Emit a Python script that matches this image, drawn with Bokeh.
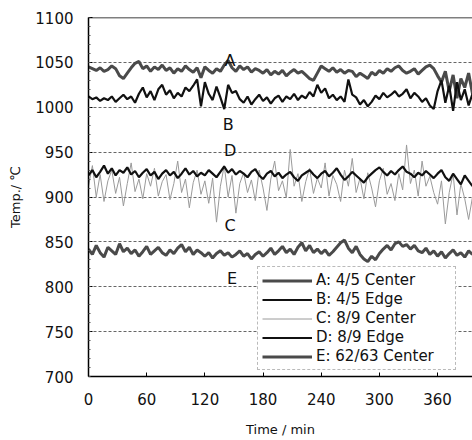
from bokeh.plotting import figure
from bokeh.models import Range1d, Span, SingleIntervalTicker, Legend, LegendItem
from bokeh.core.properties import value
from bokeh.embed import file_html
from bokeh.resources import INLINE

FONT = "DejaVu Sans"

# time axis (min), one reading every 4 minutes
time_min = list(range(0, 400, 4))

series_A = [1045, 1043, 1041, 1044, 1040, 1042, 1046, 1043, 1035, 1032,
            1038, 1044, 1049, 1051, 1043, 1046, 1040, 1045, 1042, 1047,
            1041, 1044, 1038, 1043, 1040, 1046, 1042, 1039, 1044, 1033,
            1045, 1041, 1038, 1043, 1040, 1047, 1052, 1044, 1040, 1046,
            1042, 1045, 1039, 1043, 1041, 1038, 1042, 1036, 1040, 1037,
            1041, 1035, 1039, 1042, 1038, 1040, 1036, 1032, 1030, 1038,
            1046, 1043, 1040, 1044, 1039, 1042, 1038, 1041, 1040, 1034,
            1038, 1035, 1032, 1039, 1036, 1041, 1038, 1043, 1040, 1044,
            1046, 1041, 1038, 1040, 1043, 1037, 1041, 1045, 1047, 1043,
            1035, 1028, 1040, 1018, 1036, 1010, 1032, 1022, 1038, 1015]

series_B = [1012, 1009, 1011, 1007, 1010, 1008, 1012, 1006, 1010, 1014,
            1009, 1012, 1005, 1015, 1022, 1011, 1018, 1008, 1020, 1025,
            1014, 1019, 1010, 1016, 1012, 1022, 1018, 1024, 1031, 1001,
            1028, 1015, 1008, 1023, 1011, 998, 1025, 1016, 1018, 1009,
            1005, 1012, 1003, 1009, 1014, 1007, 1011, 1004, 1010, 1013,
            1006, 1012, 1009, 1015, 1008, 1013, 1010, 1017, 1012, 1025,
            1016, 1021, 1010, 1014, 1008, 1012, 1006, 1031, 1014, 1011,
            1003, 1008, 1001, 1006, 1013, 1009, 1016, 1011, 1014, 1018,
            1012, 1015, 1020, 1010, 1016, 1012, 1006, 1010, 1002, 998,
            1018, 1030, 1005, 1024, 996, 1028, 1008, 1020, 1002, 1015]

series_C = [912, 935, 900, 925, 895, 918, 930, 904, 922, 890,
            915, 938, 906, 920, 898, 926, 912, 932, 901, 917,
            925, 897, 915, 940, 905, 920, 888, 916, 930, 903,
            918, 893, 921, 872, 912, 935, 900, 924, 882, 915,
            927, 905, 919, 896, 930, 910, 885, 920, 940, 907,
            918, 899, 953, 912, 926, 895, 917, 932, 904, 921,
            910, 938, 901, 924, 914, 895, 930, 912, 943, 905,
            921, 898, 927, 910, 889, 918, 932, 903, 915, 896,
            926, 908, 958, 915, 930, 901, 940, 912, 923, 905,
            892, 918, 870, 905, 926, 880, 915, 898, 875, 900]

series_D = [924, 930, 922, 928, 935, 926, 932, 924, 930, 927,
            933, 925, 929, 922, 927, 931, 924, 928, 920, 926,
            930, 924, 928, 921, 926, 932, 925, 929, 923, 927,
            924, 930, 926, 922, 928, 934, 927, 931, 925, 929,
            926, 922, 928, 931, 924, 920, 926, 929, 923, 927,
            921, 925, 928, 922, 918, 924, 927, 930, 925, 921,
            926, 929, 923, 927, 932, 925, 919, 923, 928, 924,
            920, 916, 922, 926, 930, 933, 928, 924, 929, 925,
            930, 934, 928, 926, 922, 927, 924, 929, 925, 921,
            926, 930, 922, 918, 926, 920, 914, 924, 918, 912]

series_E = [842, 836, 846, 838, 833, 844, 840, 836, 848, 839,
            843, 837, 841, 834, 839, 845, 836, 840, 844, 838,
            835, 841, 837, 843, 847, 839, 844, 836, 841, 838,
            834, 838, 832, 837, 840, 835, 838, 833, 836, 840,
            834, 837, 831, 836, 839, 834, 838, 843, 836, 840,
            845, 838, 842, 836, 844, 849, 840, 846, 838, 842,
            837, 841, 835, 839, 844, 849, 852, 843, 838, 845,
            836, 831, 828, 834, 830, 837, 842, 846, 841, 848,
            850, 845, 847, 842, 846, 840, 838, 843, 836, 840,
            834, 839, 832, 837, 841, 835, 838, 833, 840, 836]

legend_labels = ["A: 4/5 Center", "B: 4/5 Edge", "C: 8/9 Center",
                 "D: 8/9 Edge", "E: 62/63 Center"]

# curve tags written on the chart
tag_names = ["A", "B", "C", "D", "E"]
tag_time = [146, 144, 146, 146, 148]
tag_temp = [1052, 981, 868, 952, 809]

p = figure(width=472, height=440, output_backend="svg", toolbar_location=None,
           x_range=Range1d(0, 396), y_range=Range1d(700, 1100),
           min_border_left=88, min_border_right=0, min_border_top=17,
           min_border_bottom=64)
p.outline_line_color = None
p.background_fill_color = "white"
p.border_fill_color = "white"

p.xaxis.ticker = SingleIntervalTicker(interval=60, num_minor_ticks=0)
p.yaxis.ticker = SingleIntervalTicker(interval=50, num_minor_ticks=5)
for ax in (p.xaxis[0], p.yaxis[0]):
    ax.major_label_text_font = FONT
    ax.major_label_text_font_size = "15px"
    ax.major_label_text_color = "#111111"
    ax.axis_label_text_font = FONT
    ax.axis_label_text_font_size = "13px"
    ax.axis_label_text_font_style = "normal"
    ax.axis_label_text_color = "#111111"
    ax.axis_line_color = "black"
    ax.axis_line_width = 1.5
    ax.major_tick_in = 4
    ax.major_tick_out = 0
    ax.minor_tick_in = 2
    ax.minor_tick_out = 0
    ax.major_tick_line_color = "black"
    ax.minor_tick_line_color = "#555555"
p.xaxis.axis_label = "Time / min"
p.yaxis.axis_label = "Temp./ \u2103"
p.xaxis.major_label_standoff = 16
p.yaxis.major_label_standoff = 15
p.xaxis.axis_label_standoff = 14
p.yaxis.axis_label_standoff = 9

p.xgrid.visible = False
p.ygrid.grid_line_color = "#666666"
p.ygrid.grid_line_dash = "3 2"
p.ygrid.grid_line_width = 1

p.add_layout(Span(location=1100, dimension="width", line_color="black", line_width=1.5))

rC = p.line(time_min, series_C, line_color="#9a9a9a", line_width=1)
rE = p.line(time_min, series_E, line_color="#4a4a4a", line_width=3)
rA = p.line(time_min, series_A, line_color="#4a4a4a", line_width=3)
rB = p.line(time_min, series_B, line_color="#111111", line_width=2.2)
rD = p.line(time_min, series_D, line_color="#111111", line_width=2.2)

p.text(x=tag_time, y=tag_temp, text=tag_names, text_font=value(FONT),
       text_font_size="16px", text_align="center", text_baseline="middle",
       text_color="#111111")

legend = Legend(items=[LegendItem(label=l, renderers=[r]) for l, r in
                       zip(legend_labels, [rA, rB, rC, rD, rE])],
                location=(169, 6), orientation="vertical",
                label_text_font=FONT, label_text_font_size="15px",
                label_text_color="#111111",
                glyph_width=50, glyph_height=15, label_height=15,
                label_standoff=4, spacing=1, padding=4, margin=0,
                label_width=135,
                border_line_color="#777777", border_line_dash="2 2",
                border_line_width=1, background_fill_color="white",
                background_fill_alpha=1.0)
p.add_layout(legend, "center")

open("out.html", "w").write(file_html(p, INLINE))
